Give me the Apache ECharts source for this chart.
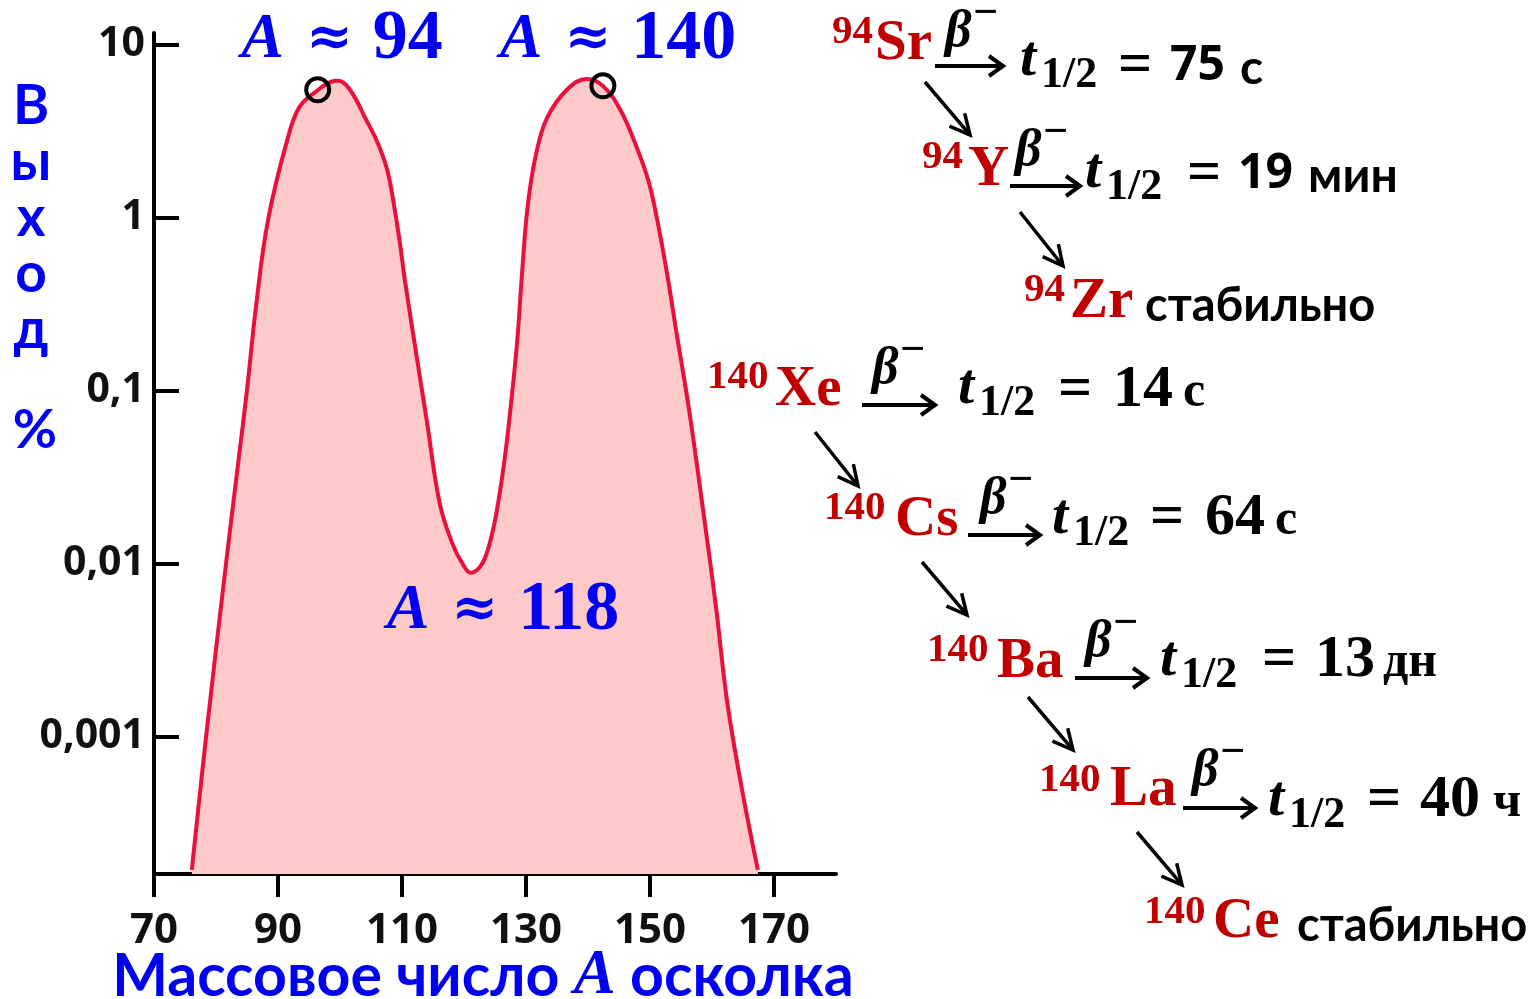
<!DOCTYPE html>
<html><head><meta charset="utf-8">
<script src="https://cdn.jsdelivr.net/npm/echarts@6/dist/echarts.min.js"></script>
<style>html,body{margin:0;padding:0;background:#fff}#c{width:1529px;height:999px}</style>
</head><body><div id="c"></div>
<script>
// ---- data ----
const massNumbers = [76.1, 78.4, 81.6, 83.7, 85.0, 86.45, 88.4, 91.5, 93.5, 96.5, 98.5, 99.7, 101.6, 104.2, 106.1, 107.6, 108.7, 109.7, 110.5, 112.4, 114.0, 116.1, 118.2, 119.7, 121.1, 122.6, 123.7, 124.8, 125.8, 126.8, 127.7, 128.6, 129.4, 130.3, 131.6, 133.4, 136.6, 139.8, 142.4, 145.2, 147.7, 149.7, 151.1, 152.7, 154.2, 156.3, 158.6, 160.7, 162.4, 164.7, 167.4];
const yieldPercent = [0.00017, 0.001, 0.0099, 0.0415, 0.101, 0.306, 0.973, 2.82, 4.39, 5.5, 6.1, 6.19, 5.5, 3.7, 2.7, 1.9, 1.19, 0.698, 0.427, 0.155, 0.0671, 0.0222, 0.0129, 0.0101, 0.00887, 0.00961, 0.0116, 0.0164, 0.0261, 0.0474, 0.0923, 0.197, 0.500, 1.19, 2.31, 3.78, 5.5, 6.35, 5.79, 4.21, 2.64, 1.66, 1.00, 0.488, 0.225, 0.0777, 0.0200, 0.00542, 0.00164, 0.000528, 0.00017];
const peakMass = [96.4, 142.4];
const peakYield = [5.5, 5.8];
const xTickValues = [70, 90, 110, 130, 150, 170];
const yTickValues = [0.001, 0.01, 0.1, 1, 10];
const yTickLabels = ['0,001', '0,01', '0,1', '1', '10'];
const annotationMass = ['94', '140', '118'];
const chain94 = ['Sr', 'Y', 'Zr'];
const halfLife94 = ['75', '19'];
const unit94 = ['с', 'мин'];
const chain140 = ['Xe', 'Cs', 'Ba', 'La', 'Ce'];
const halfLife140 = ['14', '64', '13', '40'];
const unit140 = ['с', 'с', 'дн', 'ч'];
const stableWord = 'стабильно';

// ---- styling ----
const SERIF = "'Liberation Serif', 'DejaVu Serif', serif";
const SANS = "Lato, 'Open Sans', sans-serif";
const TICKF = "'Open Sans', 'Noto Sans', sans-serif";
const BLUE = '#0000f2';
const RED = '#c00000';

function txt(x, y, text, o) {
  return { type: 'text', x: x, y: y, silent: true, z: 10, style: Object.assign({
    text: text, fill: '#000', align: 'left', verticalAlign: 'middle',
    fontFamily: SERIF, fontSize: 56, fontWeight: 'normal'
  }, o || {}) };
}
function arrow(x1, y1, x2, y2, wing, spread, lw) {
  const dx = x2 - x1, dy = y2 - y1, L = Math.hypot(dx, dy);
  const ux = dx / L, uy = dy / L, nx = -uy, ny = ux;
  return [
    { type: 'line', silent: true, z: 10, shape: { x1: x1, y1: y1, x2: x2 - ux, y2: y2 - uy }, style: { stroke: '#000', lineWidth: lw || 3.5 } },
    { type: 'polyline', silent: true, z: 10, shape: { points: [
      [x2 - wing * ux + spread * nx, y2 - wing * uy + spread * ny], [x2, y2],
      [x2 - wing * ux - spread * nx, y2 - wing * uy - spread * ny]] },
      style: { stroke: '#000', lineWidth: lw || 3.5, fill: null, lineJoin: 'miter' } }
  ];
}

const G = [];
// y-axis name
G.push(txt(31, 218, 'В\nы\nх\nо\nд', { fontFamily: SANS, fontWeight: 'bold', fontSize: 55, fill: BLUE, align: 'center', lineHeight: 56 }));
G.push(txt(35, 431, '%', { fontFamily: SANS, fontWeight: 'bold', fontSize: 54, fill: BLUE, align: 'center' }));

// annotations
function ann(x, y, num) {
  return { type: 'text', x: x, y: y, silent: true, z: 10, style: {
    text: '{i|A}{g|≈}{n|' + num + '}', align: 'center', verticalAlign: 'middle',
    rich: {
      i: { fontFamily: SERIF, fontStyle: 'italic', fontWeight: 'bold', fontSize: 64, fill: BLUE },
      g: { fontFamily: "'DejaVu Serif', serif", fontWeight: 'bold', fontSize: 56, fill: BLUE, padding: [0, 20, 0, 22] },
      n: { fontFamily: SERIF, fontWeight: 'bold', fontSize: 70, fill: BLUE }
    } } };
}
G.push(ann(342, 40, annotationMass[0]));
G.push(ann(618, 40, annotationMass[1]));
G.push(ann(503, 611, annotationMass[2]));

// decay line pieces
function nuclide(supX, supY, elX, elY, mass, el) {
  G.push(txt(supX, supY, mass, { fontSize: 41, fill: RED, fontWeight: 'bold' }));
  G.push(txt(elX, elY, el, { fontSize: 57, fill: RED, fontWeight: 'bold' }));
}
function decay(bx, by, ax1, ax2, ay, tx, ty, eqX, numX, unitX, cy, num, unit, sansNum) {
  G.push(txt(bx, by, 'β', { fontSize: 52, fontStyle: 'italic', fontWeight: 'bold' }));
  G.push(txt(bx + 28, by - 18, '−', { fontSize: 44, fontWeight: 'bold' }));
  arrow(ax1, ay, ax2, ay, 14, 10, 4).forEach(e => G.push(e));
  G.push(txt(tx, ty, 't', { fontSize: 58, fontStyle: 'italic', fontWeight: 'bold' }));
  G.push(txt(tx + 21, ty + 16, '1/2', { fontSize: 44, fontWeight: 'bold' }));
  G.push(txt(eqX, cy, '=', { fontSize: 60, fontWeight: 'bold' }));
  if (sansNum) {
    G.push(txt(numX, cy, num, { fontFamily: TICKF, fontSize: 48, fontWeight: 'bold' }));
    G.push(txt(unitX, cy + 3, unit, { fontFamily: SANS, fontSize: 48, fontWeight: 'bold' }));
  } else {
    G.push(txt(numX, cy, num, { fontSize: 60, fontWeight: 'bold' }));
    G.push(txt(unitX, cy + 3, unit, { fontSize: 50, fontWeight: 'bold' }));
  }
}
// A = 94 chain
nuclide(832, 32, 875, 44, '94', chain94[0]);
decay(945, 33, 935, 1003, 66, 1020, 60, 1118, 1170, 1240, 66, halfLife94[0], unit94[0], true);
arrow(925, 82, 970, 135, 20, 10).forEach(e => G.push(e));
nuclide(922, 157, 968, 170, '94', chain94[1]);
decay(1015, 152, 1010, 1080, 186, 1085, 172, 1187, 1238, 1308, 174, halfLife94[1], unit94[1], true);
arrow(1020, 212, 1063, 266, 20, 10).forEach(e => G.push(e));
nuclide(1024, 290, 1070, 302, '94', chain94[2]);
G.push(txt(1145, 306, stableWord, { fontFamily: SANS, fontSize: 47, fontWeight: 'bold' }));
// A = 140 chain
nuclide(707, 377, 775, 390, '140', chain140[0]);
decay(872, 370, 862, 935, 405, 958, 388, 1058, 1113, 1183, 390, halfLife140[0], unit140[0], false);
arrow(815, 432, 858, 486, 20, 10).forEach(e => G.push(e));
nuclide(824, 508, 895, 520, '140', chain140[1]);
decay(980, 500, 968, 1040, 535, 1052, 518, 1150, 1205, 1275, 518, halfLife140[1], unit140[1], false);
arrow(922, 562, 967, 615, 20, 10).forEach(e => G.push(e));
nuclide(927, 650, 997, 662, '140', chain140[2]);
decay(1085, 643, 1075, 1147, 678, 1160, 660, 1262, 1315, 1383, 660, halfLife140[2], unit140[2], false);
arrow(1028, 697, 1073, 750, 20, 10).forEach(e => G.push(e));
nuclide(1039, 780, 1110, 790, '140', chain140[3]);
decay(1192, 772, 1183, 1255, 808, 1268, 800, 1367, 1420, 1493, 800, halfLife140[3], unit140[3], false);
arrow(1137, 832, 1182, 885, 20, 10).forEach(e => G.push(e));
nuclide(1144, 912, 1213, 922, '140', chain140[4]);
G.push(txt(1297, 926, stableWord, { fontFamily: SANS, fontSize: 47, fontWeight: 'bold' }));

const Y_MIN = 0.000161, Y_MAX = 11.7;
const yLabelMap = {};
yTickValues.forEach((v, i) => { yLabelMap[v] = yTickLabels[i]; });

const chart = echarts.init(document.getElementById('c'), null, { renderer: 'canvas' });
chart.setOption({
  backgroundColor: '#ffffff',
  animation: false,
  grid: { left: 154, right: 693, top: 33, bottom: 125, containLabel: false, outerBoundsMode: 'none' },
  xAxis: {
    type: 'value', min: 70, max: 180,
    axisLine: { show: true, lineStyle: { color: '#000', width: 4 } },
    axisTick: { show: true, inside: false, length: 23, lineStyle: { color: '#000', width: 4 }, customValues: xTickValues },
    axisLabel: { customValues: xTickValues, margin: 36, color: '#111', fontFamily: TICKF, fontWeight: 'bold', fontSize: 42 },
    splitLine: { show: false },
    name: '{b|Массовое число }{i|A}{b| осколка}',
    nameLocation: 'middle', nameGap: 71, nameMoveOverlap: false,
    nameTextStyle: { padding: [0, 24, 0, 0], rich: {
      b: { fontFamily: SANS, fontWeight: 'bold', fontSize: 59, color: BLUE },
      i: { fontFamily: SERIF, fontStyle: 'italic', fontWeight: 'bold', fontSize: 63, color: BLUE }
    } }
  },
  yAxis: {
    type: 'log', min: Y_MIN, max: Y_MAX, logBase: 10,
    axisLine: { show: true, lineStyle: { color: '#000', width: 4 } },
    axisTick: { show: true, inside: true, length: 25, lineStyle: { color: '#000', width: 4 }, customValues: yTickValues },
    axisLabel: { customValues: yTickValues, margin: 9, color: '#111', fontFamily: TICKF, fontWeight: 'bold', fontSize: 41,
      formatter: function (v) { for (const k of yTickValues) { if (Math.abs(Math.log10(v) - Math.log10(k)) < 1e-6) return yLabelMap[k]; } return ''; } },
    splitLine: { show: false }
  },
  series: [
    {
      type: 'line', data: massNumbers.map((a, i) => [a, yieldPercent[i]]),
      smooth: 0.4, showSymbol: false, symbol: 'none',
      lineStyle: { color: '#e8103c', width: 4 },
      areaStyle: { color: '#fdc9c9', opacity: 1, origin: Y_MIN },
      z: 2
    },
    {
      type: 'scatter', data: peakMass.map((a, i) => [a, peakYield[i]]),
      symbol: 'circle', symbolSize: 23,
      itemStyle: { color: 'rgba(0,0,0,0)', borderColor: '#000', borderWidth: 4, opacity: 1 },
      z: 5
    }
  ],
  graphic: { elements: G }
});
</script>
</body></html>
